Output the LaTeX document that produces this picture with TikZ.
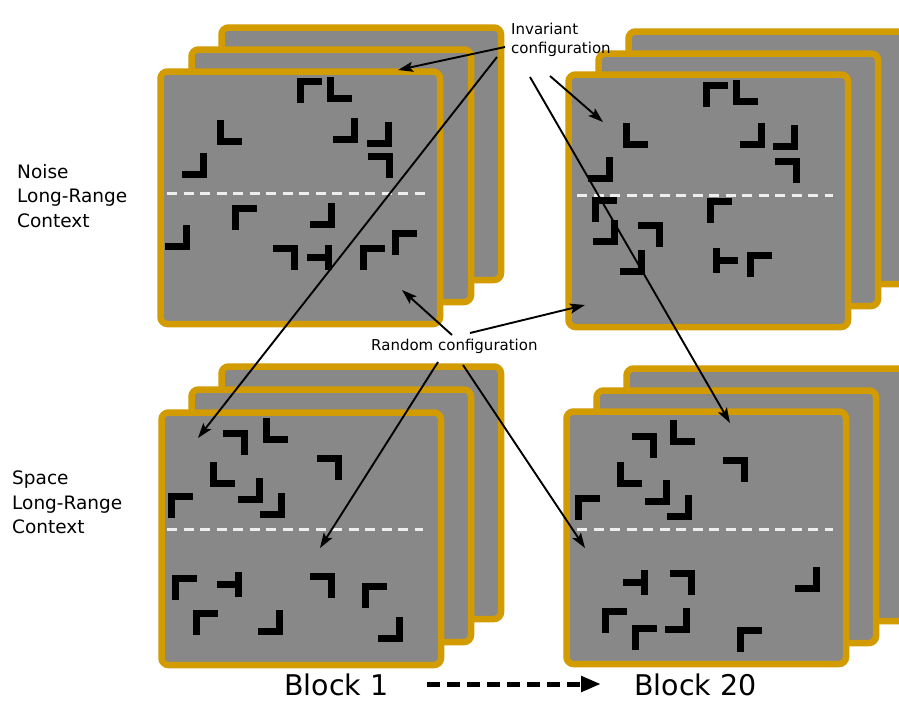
\documentclass[tikz,border=0pt]{standalone}
\usepackage{fontspec}
\setmainfont{DejaVu Sans}
\usetikzlibrary{arrows.meta}
\definecolor{frameorange}{RGB}{210,155,0}
\definecolor{cardgray}{RGB}{136,136,136}
\definecolor{dashwhite}{RGB}{238,238,238}
\newcommand\cardat[3]{\node[card] (#1) at (#2+3.25,#3+3.25) {};}
\newcommand\glTL[2]{\fill (#1,#2) rectangle ++(25,7); \fill (#1,#2) rectangle ++(7,25);}
\newcommand\glTR[2]{\fill (#1,#2) rectangle ++(25,7); \fill (#1+18,#2) rectangle ++(7,25);}
\newcommand\glBL[2]{\fill (#1,#2) rectangle ++(7,25); \fill (#1,#2+18) rectangle ++(25,7);}
\newcommand\glBR[2]{\fill (#1+18,#2) rectangle ++(7,25); \fill (#1,#2+18) rectangle ++(25,7);}
\newcommand\glTeeL[2]{\fill (#1+18,#2) rectangle ++(7,25); \fill (#1,#2+9) rectangle ++(25,7);}
\newcommand\glTeeR[2]{\fill (#1,#2) rectangle ++(7,25); \fill (#1,#2+9) rectangle ++(25,7);}
\begin{document}
\begin{tikzpicture}[x=1pt,y=-1pt,
  card/.style={draw=frameorange, fill=cardgray, line width=6.5pt, rounded corners=7pt,
    minimum width=279.5pt, minimum height=252.5pt, inner sep=0pt, anchor=north west},
  midline/.style={draw=dashwhite, line width=3pt, dash pattern=on 10pt off 6.5pt},
  thinarrow/.style={draw=black, line width=1.9pt, -{Stealth[length=15pt,width=10pt,inset=3pt]}},
  smalllabel/.style={inner sep=0pt, font=\fontsize{15}{18.5}\selectfont},
  sidelabel/.style={inner sep=0pt, anchor=north west, align=left, font=\fontsize{18.5}{24.5}\selectfont},
  blocklabel/.style={inner sep=0pt, anchor=base west, font=\fontsize{28.5}{30}\selectfont}]
\clip (0,0) rectangle (899,702);
\useasboundingbox (0,0) rectangle (899,702);
\fill[white] (0,0) rectangle (899,702);
% ---------- top-left stack ----------
\cardat{tlc}{215}{21}
\cardat{tlb}{185}{43}
\cardat{tla}{154}{65}
\draw[midline] (167,193) -- (425,193);
\glTL{297}{78} \glBL{327}{77} \glBL{217}{120} \glBR{333}{118} \glBR{367}{122}
\glTR{368}{153} \glBR{182}{153}
\glTL{232}{205} \glBR{310}{203} \glBR{165}{225} \glTR{273}{245} \glTeeL{307}{245}
\glTL{360}{245} \glTL{392}{230}
% ---------- top-right stack ----------
\cardat{trc}{622}{25}
\cardat{trb}{592}{47}
\cardat{tra}{562}{68}
\draw[midline] (577,195) -- (833,195);
\glTL{703}{82} \glBL{733}{80} \glBL{623}{123} \glBR{740}{123} \glBR{773}{125}
\glTR{775}{158} \glBR{588}{157}
\glTL{592}{197} \glBR{593}{220} \glTR{638}{222} \glBR{620}{250} \glTL{707}{198}
\glTeeR{713}{248} \glTL{747}{252}
% ---------- bottom-left stack ----------
\cardat{blc}{215}{360}
\cardat{blb}{185}{383}
\cardat{bla}{155}{406}
\draw[midline] (167,529) -- (423,529);
\glTR{223}{430} \glBL{263}{418} \glTR{317}{455} \glBL{210}{462} \glBR{238}{478}
\glBR{260}{493} \glTL{168}{493}
\glTL{172}{575} \glTeeL{217}{572} \glTR{310}{573} \glTL{362}{583} \glTL{193}{610}
\glBR{258}{610} \glBR{378}{617}
% ---------- bottom-right stack ----------
\cardat{brc}{620}{362}
\cardat{brb}{590}{384}
\cardat{bra}{560}{405}
\draw[midline] (577,529) -- (833,529);
\glTR{632}{433} \glBL{670}{420} \glTR{723}{457} \glBL{617}{462} \glBR{645}{480}
\glBR{667}{495} \glTL{575}{495}
\glTeeL{623}{570} \glTR{670}{570} \glBR{795}{567} \glTL{602}{608} \glBR{665}{608}
\glTL{632}{625} \glTL{737}{627}
% ---------- labels ----------
\node[smalllabel, anchor=north west, align=left] (inv) at (511,23) {Invariant\\configuration};
\node[smalllabel, anchor=base west] (rnd) at (371,350) {Random configuration};
\node[sidelabel] (noise) at (17,164) {Noise\\Long-Range\\Context};
\node[sidelabel] (space) at (12,471) {Space\\Long-Range\\Context};
\node[blocklabel] (b1) at (284,695) {Block 1};
\node[blocklabel] (b20) at (634,695) {Block 20};
% ---------- arrow end points ----------
\coordinate (i1s) at (505,47);  \coordinate (i1e) at (398,70);
\coordinate (i2s) at (497,57);  \coordinate (i2e) at (198,438);
\coordinate (i3s) at (530,77);  \coordinate (i3e) at (730,423);
\coordinate (i4s) at (550,76);  \coordinate (i4e) at (603,122);
\coordinate (r1s) at (452,335); \coordinate (r1e) at (402,290);
\coordinate (r2s) at (470,333); \coordinate (r2e) at (585,305);
\coordinate (r3s) at (438,362); \coordinate (r3e) at (320,548);
\coordinate (r4s) at (463,365); \coordinate (r4e) at (585,548);
\coordinate (bs) at (427,684);  \coordinate (be) at (601,684);
% ---------- arrows ----------
\draw[thinarrow] (i1s) -- (i1e);
\draw[thinarrow] (i2s) -- (i2e);
\draw[thinarrow] (i3s) -- (i3e);
\draw[thinarrow] (i4s) -- (i4e);
\draw[thinarrow] (r1s) -- (r1e);
\draw[thinarrow] (r2s) -- (r2e);
\draw[thinarrow] (r3s) -- (r3e);
\draw[thinarrow] (r4s) -- (r4e);
\draw[line width=5pt, dash pattern=on 13pt off 7pt, -{Triangle[length=20pt,width=15pt]}] (bs) -- (be);
\end{tikzpicture}
\end{document}
